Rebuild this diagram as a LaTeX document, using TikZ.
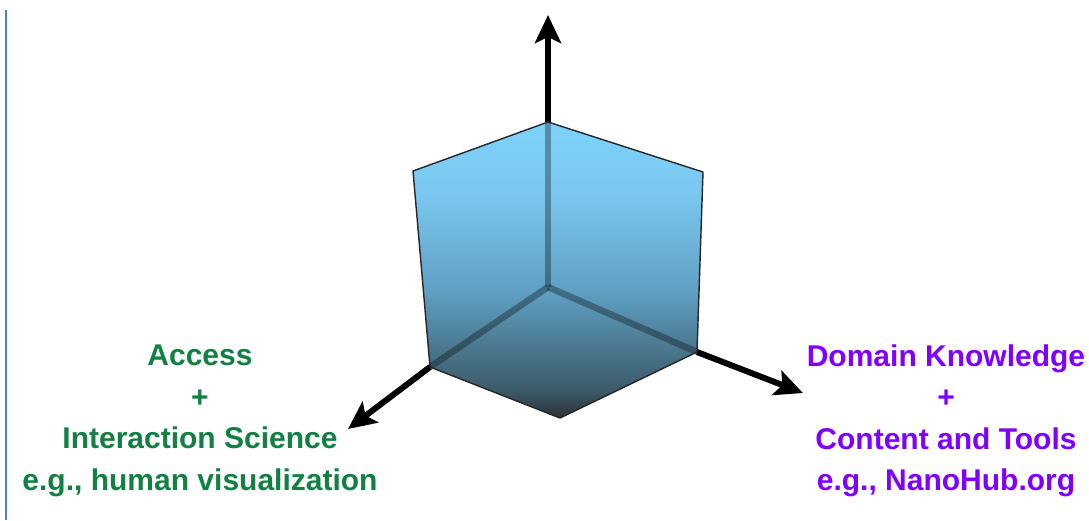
\documentclass[tikz,border=0pt]{standalone}
\usepackage{fontspec}
\setmainfont{Liberation Sans}
\usetikzlibrary{arrows.meta}
\definecolor{accessgreen}{RGB}{18,128,66}
\definecolor{domainviolet}{RGB}{128,0,255}
\definecolor{cubetop}{RGB}{125,210,250}
\definecolor{cubehigh}{RGB}{123,200,240}
\definecolor{cubemid}{RGB}{95,160,195}
\definecolor{cubelow}{RGB}{60,90,105}
\definecolor{cubebot}{RGB}{45,50,55}
\definecolor{rulerblue}{RGB}{79,129,189}
% vertical fade of the cube, light blue down to dark slate
\pgfdeclareverticalshading{cubeshade}{100bp}{color(0bp)=(cubebot); color(25bp)=(cubebot);
  color(29.75bp)=(cubelow); color(46.5bp)=(cubemid); color(63.5bp)=(cubehigh);
  color(75bp)=(cubetop); color(100bp)=(cubetop)}
\begin{document}
\begin{tikzpicture}[x=1pt, y=-1pt,
  axis/.style={black, line width=6pt, -{Stealth[length=28pt, width=26pt, inset=6pt]}},
  inaxis/.style={black, line width=6.5pt, opacity=0.32},
  cube/.style={shading=cubeshade},
  rim/.style={black!85, line width=1.4pt, line join=round},
  label/.style={align=center, inner sep=0pt, anchor=north,
    font=\fontsize{30}{41.5}\selectfont\bfseries}]
\useasboundingbox (0,0) rectangle (1089,520);
% ---- page rule at the left ----
\draw[rulerblue, line width=2pt] (5.5,10) -- (5.5,520);
% ---- corners of the cube and ends of the axes ----
\coordinate (o)   at (548,287);   % origin
\coordinate (top) at (548,122);
\coordinate (ul)  at (413,171);
\coordinate (ur)  at (703,172);
\coordinate (lr)  at (697,352);
\coordinate (bot) at (560,418);
\coordinate (ll)  at (430,367);
\coordinate (ztip) at (548,15);
\coordinate (xtip) at (803,393);
\coordinate (ytip) at (348,429);
% ---- cube face ----
\fill[cube] (top) -- (ur) -- (lr) -- (bot) -- (ll) -- (ul) -- cycle;
% ---- axes seen through the cube ----
\draw[inaxis] (o) -- (top);
\draw[inaxis] (o) -- (lr);
\draw[inaxis] (o) -- (ll);
% ---- axes outside the cube ----
\draw[axis] (top) -- (ztip);
\draw[axis] (lr) -- (xtip);
\draw[axis] (ll) -- (ytip);
\draw[rim]  (top) -- (ur) -- (lr) -- (bot) -- (ll) -- (ul) -- cycle;
% ---- axis labels ----
\node[label, accessgreen] (access) at (200,345)
  {Access\\+\\Interaction Science\\e.g., human visualization};
\node[label, domainviolet] (domain) at (946,344.5)
  {Domain Knowledge\\+\\Content and Tools\\e.g., NanoHub.org};
\end{tikzpicture}
\end{document}
